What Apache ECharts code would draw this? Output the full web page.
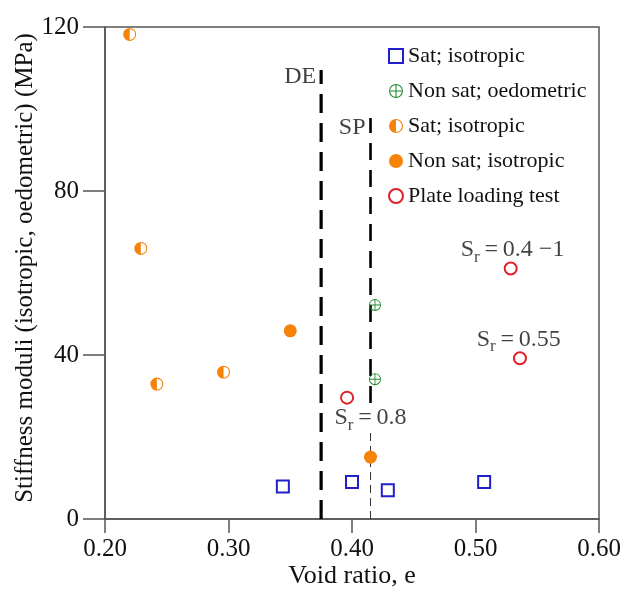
<!DOCTYPE html>
<html>
<head>
<meta charset="utf-8">
<script src="https://cdn.jsdelivr.net/npm/echarts@6/dist/echarts.min.js"></script>
<style>html,body{margin:0;padding:0;background:#fff}#c{width:624px;height:594px}</style>
</head>
<body>
<div id="c"></div>
<script>
// ---- data ----
const xTicks = [0.2, 0.3, 0.4, 0.5, 0.6];
const yTicks = [0, 40, 80, 120];
const satIsoSquares = [[0.344, 7.9], [0.400, 9.0], [0.429, 7.0], [0.507, 9.0]];
const nonSatOedometric = [[0.4186, 52.2], [0.4186, 34.1]];
const satIsoHalf = [[0.220, 118.2], [0.229, 66.0], [0.242, 32.9], [0.296, 35.8]];
const nonSatIso = [[0.350, 45.9], [0.415, 15.1]];
const plateLoading = [[0.396, 29.6], [0.5285, 61.1], [0.536, 39.2]];
const lineDE = [[0.375, 0], [0.375, 109.5]];
const lineSPthick = [[0.415, 28.3], [0.415, 97.8]];
const lineSPthin = [[0.415, 0], [0.415, 22.0]];
const names = ['Sat; isotropic', 'Non sat; oedometric', 'Sat; isotropic ', 'Non sat; isotropic', 'Plate loading test'];
const notes = [
  {pos: [0.375, 107.8], text: 'DE', kind: 'left'},
  {pos: [0.415, 95.4], text: 'SP', kind: 'left'},
  {pos: [0.415, 24.6], text: '{s|S}{r|r}{s|\u2009=\u20090.8}', kind: 'center'},
  {pos: [0.530, 65.6], text: '{s|S}{r|r}{s|\u2009=\u20090.4 \u22121}', kind: 'center'},
  {pos: [0.535, 43.8], text: '{s|S}{r|r}{s|\u2009=\u20090.55}', kind: 'center'}
];

const FONT = 'Liberation Serif';
const halfPath = 'path://M0,-10A10,10 0 0,0 0,10Z M0,-10A10,10 0 0,1 0,10L0,8.4A8.4,8.4 0 0,0 0,-8.4Z';
const oplusPath = 'path://M0,-10A10,10 0 1,1 0,10A10,10 0 1,1 0,-10Z M0,-8.5A8.5,8.5 0 1,0 0,8.5A8.5,8.5 0 1,0 0,-8.5Z M-8.6,-0.75L8.6,-0.75L8.6,0.75L-8.6,0.75Z M-0.75,-8.6L0.75,-8.6L0.75,8.6L-0.75,8.6Z';

const richStyle = {
  s: {fontFamily: FONT, fontSize: 24, color: '#111', lineHeight: 24, verticalAlign: 'top'},
  r: {fontFamily: FONT, fontSize: 17, color: '#111', lineHeight: 17, verticalAlign: 'top', padding: [11, 0, 0, 0]}
};

const chart = echarts.init(document.getElementById('c'), null, {renderer: 'canvas'});
chart.setOption({
  backgroundColor: '#fff',
  animation: false,
  grid: {left: 105, right: 25, top: 27, bottom: 75, containLabel: false, outerBoundsMode: 'none',
    show: true, borderColor: '#555', borderWidth: 1.5, backgroundColor: 'transparent'},
  legend: {
    orient: 'vertical', left: 383, top: 40, itemGap: 13, itemWidth: 14, itemHeight: 14,
    textStyle: {fontFamily: FONT, fontSize: 22, color: '#111'},
    data: names
  },
  xAxis: {
    type: 'value', min: 0.2, max: 0.6, interval: 0.1,
    name: 'Void ratio, e', nameLocation: 'middle', nameGap: 44, nameMoveOverlap: false,
    nameTextStyle: {fontFamily: FONT, fontSize: 26, color: '#111'},
    axisLine: {lineStyle: {color: '#555', width: 1.5}},
    axisTick: {inside: false, length: 14, lineStyle: {color: '#555', width: 1.5}},
    axisLabel: {fontFamily: FONT, fontSize: 25, color: '#111', margin: 18,
      formatter: v => xTicks.some(t => Math.abs(t - v) < 1e-9) ? v.toFixed(2) : ''},
    splitLine: {show: false}
  },
  yAxis: {
    type: 'value', min: 0, max: 120, interval: 40,
    name: 'Stiffness moduli (isotropic, oedometric) (MPa)', nameLocation: 'middle', nameGap: 67, nameMoveOverlap: false,
    nameTextStyle: {fontFamily: FONT, fontSize: 25, color: '#111', padding: [0, 0, 0, 10]},
    axisLine: {lineStyle: {color: '#555', width: 1.5}},
    axisTick: {inside: false, length: 22, lineStyle: {color: '#555', width: 1.5}},
    axisLabel: {fontFamily: FONT, fontSize: 25, color: '#111', margin: 26,
      formatter: v => yTicks.includes(v) ? String(v) : ''},
    splitLine: {show: false}
  },
  series: [
    {type: 'line', data: lineDE, symbol: 'none', silent: true, z: 1,
      lineStyle: {color: '#000', width: 3.2, type: [19, 10]}},
    {type: 'line', data: lineSPthick, symbol: 'none', silent: true, z: 1,
      lineStyle: {color: '#000', width: 2.6, type: [17, 10]}},
    {type: 'line', data: lineSPthin, symbol: 'none', silent: true, z: 1,
      lineStyle: {color: '#333', width: 1, type: [8, 5]}},
    {name: names[0], type: 'scatter', data: satIsoSquares, symbol: 'emptyRect', symbolSize: 12, z: 3,
      itemStyle: {color: '#2020c8', borderWidth: 1.6, opacity: 1}},
    {name: names[1], type: 'scatter', data: nonSatOedometric, symbol: oplusPath, symbolSize: 12, z: 3,
      itemStyle: {color: '#1f8a30', opacity: 1}},
    {name: names[2], type: 'scatter', data: satIsoHalf, symbol: halfPath, symbolSize: 13, z: 3,
      itemStyle: {color: '#f7820a', opacity: 1}},
    {name: names[3], type: 'scatter', data: nonSatIso, symbol: 'circle', symbolSize: 13, z: 3,
      itemStyle: {color: '#f7820a', opacity: 1}},
    {name: names[4], type: 'scatter', data: plateLoading, symbol: 'emptyCircle', symbolSize: 12, z: 3,
      itemStyle: {color: '#e0202a', borderWidth: 1.5, opacity: 1}},
    {type: 'scatter', silent: true, symbolSize: 0, z: 4,
      data: notes.map(n => ({
        value: n.pos,
        label: n.kind === 'left'
          ? {show: true, position: 'left', distance: 5, formatter: n.text, fontFamily: FONT, fontSize: 24, color: '#111'}
          : {show: true, position: 'inside', formatter: n.text, rich: richStyle}
      }))}
  ]
});
</script>
</body>
</html>
